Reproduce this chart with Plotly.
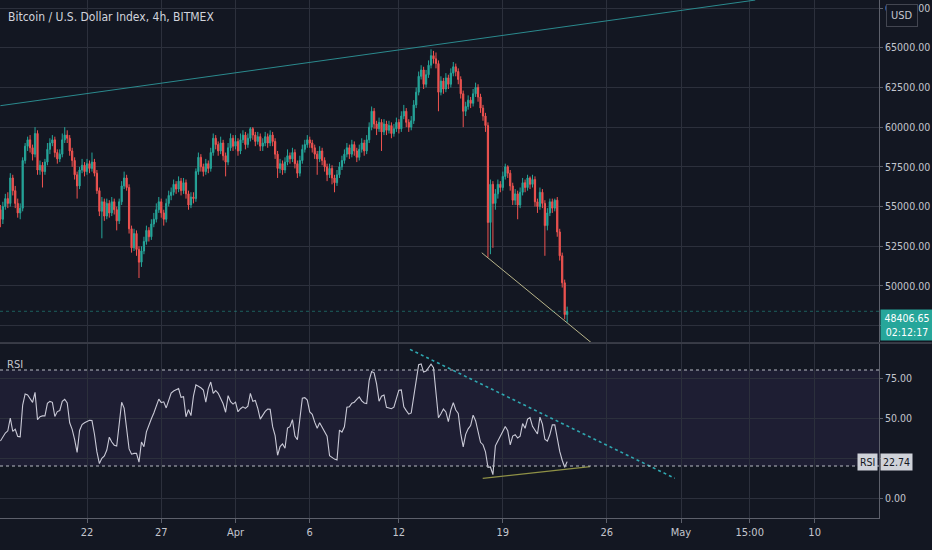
import pandas as pd
import plotly.graph_objects as go
from plotly.subplots import make_subplots

# 4h BITMEX XBTUSD candles (16 Mar 04:00 -> 23 Apr 08:00)
first_candle = "2021-03-16 04:00"
first_open = 54800
closes = [
    54200, 55000, 55500, 55200, 56800, 56000, 55200, 54600, 54900, 57900,
    58800, 59200, 58700, 58300, 59600, 57300, 57600, 57200, 57800, 58600,
    59000, 59200, 58400, 58000, 58300, 59200, 59500, 59300, 58500, 57900,
    57000, 56300, 57300, 57600, 57200, 57700, 57400, 57800, 57100, 56000,
    54700, 55300, 54400, 55200, 54600, 55300, 54800, 54100, 55300, 56300,
    56800, 56200, 53600, 52400, 53300, 52300, 51500, 52200, 52800, 53500,
    53100, 53900, 54200, 54800, 55300, 54600, 54200, 55200, 55700, 55900,
    56400, 56100, 56600, 56000, 56500, 55800, 55100, 55600, 55500, 57200,
    58100, 57500, 57200, 57700, 57400, 58400, 59300, 58900, 58500, 59000,
    58200, 57800, 58700, 59300, 58800, 59100, 58500, 59200, 59500, 58900,
    59300, 59900, 59500, 59100, 59400, 58800, 59000, 59400, 59000, 59500,
    59100, 58300, 57400, 57700, 57300, 57800, 58200, 58000, 58400, 57700,
    57100, 57900, 58600, 58900, 59200, 59000, 58700, 58300, 58000, 58500,
    57900, 57500, 57000, 57400, 56800, 56500, 57000, 57500, 57900, 58300,
    58700, 58300, 58900, 58500, 58100, 58600, 59000, 58500, 59200, 60000,
    61000, 60200, 59900, 60300, 59700, 60200, 59800, 60100, 59600, 59900,
    60300, 59900, 60700, 61000, 60300, 60000, 60400, 61400, 62200, 63200,
    63600, 62700, 63300, 63900, 64500, 64300, 64000, 62200, 62900, 62400,
    63100, 62700, 63400, 63800, 63500, 63000, 62100, 61000, 61300, 61700,
    61500, 62100, 62500, 61900, 61200, 60700, 60100, 54000, 56400, 55200,
    55800, 56400, 56200, 56900, 57500, 57100, 56300, 55400, 55800, 55100,
    55900, 56500, 56200, 56800, 56400, 56700, 55300, 55000, 55900, 55200,
    53800, 54600, 55300, 54900, 55400, 53400, 51900, 50200, 48200, 48406.65,
]
highs = [
    55100, 55300, 55800, 55900, 57100, 57000, 56300, 55500, 55200, 58100,
    59000, 59400, 59500, 58900, 60000, 59800, 57900, 57800, 58000, 59000,
    59300, 59500, 59400, 58600, 58600, 59600, 60000, 59800, 59500, 58700,
    58100, 57200, 57500, 58000, 57800, 58000, 57900, 58400, 58000, 57300,
    56200, 55600, 55500, 55500, 55400, 55600, 55500, 55000, 55500, 56600,
    57200, 57000, 56400, 53800, 53600, 53500, 52500, 52500, 53100, 53800,
    53700, 54200, 54600, 55200, 55600, 55500, 54800, 55500, 56000, 56200,
    56700, 56600, 56900, 56800, 56800, 56700, 56000, 55900, 55900, 57400,
    58400, 58300, 57700, 58000, 57900, 58700, 59600, 59500, 59100, 59400,
    59200, 58400, 59000, 59600, 59500, 59500, 59300, 59600, 59800, 59700,
    59600, 60000, 60000, 59700, 59700, 59600, 59300, 59700, 59600, 59800,
    59700, 59300, 58500, 58000, 57900, 58100, 58600, 58400, 58700, 58600,
    57900, 58200, 58900, 59200, 59500, 59400, 59200, 58900, 58500, 58800,
    58700, 58100, 57700, 57700, 57600, 57000, 57300, 57800, 58200, 58600,
    59000, 58900, 59200, 59100, 58700, 58900, 59300, 59200, 59500, 60300,
    61300, 61200, 60400, 60600, 60500, 60500, 60400, 60400, 60300, 60200,
    60600, 60500, 61000, 61400, 61200, 60500, 60700, 61700, 62500, 63500,
    63900, 63800, 63600, 64200, 64900, 64800, 64700, 64200, 63200, 63100,
    63400, 63300, 63700, 64100, 64000, 63700, 63200, 62300, 61600, 62000,
    61900, 62400, 62800, 62700, 62100, 61400, 60900, 60300, 56700, 56600,
    56100, 56700, 56600, 57200, 57700, 57600, 57300, 56500, 56100, 56000,
    56200, 56800, 56700, 57000, 56900, 57000, 56900, 55500, 56200, 56100,
    55400, 54900, 55500, 55500, 55500, 55600, 53600, 52100, 50400, 48700,
]
lows = [
    53700, 53900, 54800, 54900, 55000, 55700, 54900, 54300, 54200, 54700,
    57700, 58500, 58400, 57900, 58100, 57000, 57000, 56200, 57000, 57600,
    58300, 58800, 58100, 57700, 57800, 58100, 59000, 59000, 58200, 57500,
    56700, 55500, 56100, 57100, 56900, 57000, 57100, 57200, 56900, 55800,
    54400, 53000, 54100, 54200, 54300, 54400, 54500, 53500, 53900, 55100,
    56100, 56000, 53300, 52100, 52200, 51900, 50500, 51200, 52000, 52600,
    52800, 52900, 53700, 54000, 54600, 54300, 53800, 54000, 55000, 55400,
    55700, 55800, 55900, 55700, 55800, 55500, 54800, 54900, 55200, 55300,
    57000, 57200, 56900, 57000, 57100, 57200, 58200, 58600, 58200, 58300,
    57900, 56900, 57600, 58500, 58500, 58600, 58200, 58300, 59000, 58600,
    58700, 59100, 59200, 58800, 58900, 58500, 58500, 58800, 58700, 58800,
    58800, 58000, 56800, 57100, 57000, 57100, 57600, 57700, 57800, 57400,
    56800, 56900, 57700, 58400, 58700, 58700, 58400, 58000, 57000, 57800,
    57600, 57200, 56600, 56800, 56400, 55900, 56300, 56800, 57300, 57700,
    58100, 58000, 58100, 58200, 57800, 57900, 58400, 58200, 58300, 59000,
    59800, 59900, 59500, 59700, 58500, 59500, 59500, 59600, 59300, 59400,
    59700, 59600, 59700, 60500, 60000, 59700, 59800, 60200, 61200, 62000,
    63000, 62400, 62500, 63100, 63700, 64000, 63700, 61000, 62000, 62100,
    62200, 62400, 62500, 63200, 63200, 62700, 61800, 60000, 60700, 61100,
    61200, 61300, 61900, 61600, 60900, 60400, 59700, 51800, 52000, 52400,
    54800, 55500, 55900, 56000, 56700, 56800, 56000, 55100, 55100, 54200,
    54900, 55700, 55900, 56000, 56100, 56200, 55000, 54600, 54800, 54900,
    51900, 53500, 54400, 54600, 54700, 53100, 51600, 49900, 47900, 47700,
]
rsi = [
    35.6, 38.0, 40.6, 42.0, 50.0, 41.6, 43.0, 38.5, 38.2, 58.0,
    65.0, 64.4, 62.2, 59.8, 66.0, 49.0, 50.8, 51.3, 51.3, 59.2,
    60.4, 59.8, 51.0, 54.0, 54.7, 60.4, 61.7, 59.4, 47.0, 42.9,
    36.5, 28.5, 42.2, 45.9, 47.0, 47.8, 48.6, 48.4, 40.0, 28.8,
    21.5, 24.8, 26.3, 30.0, 38.0, 35.0, 33.0, 32.5, 48.6, 59.8,
    56.2, 43.3, 30.7, 27.4, 27.9, 27.9, 22.4, 35.0, 32.1, 41.3,
    46.0, 49.5, 53.1, 58.1, 61.8, 59.6, 60.1, 56.3, 60.4, 65.6,
    66.9, 67.8, 68.4, 62.9, 63.3, 50.8, 55.2, 51.5, 63.7, 70.7,
    69.9, 68.9, 67.5, 59.9, 68.4, 72.5, 65.4, 67.2, 65.4, 61.6,
    58.9, 53.6, 64.0, 60.2, 58.7, 59.9, 53.9, 55.8, 57.0, 56.0,
    57.4, 65.4, 60.4, 61.0, 56.0, 49.3, 52.0, 54.1, 55.6, 55.4,
    44.6, 39.0, 26.7, 32.1, 33.8, 31.1, 43.7, 44.6, 49.0, 38.7,
    36.5, 51.0, 62.4, 62.7, 61.2, 53.8, 52.3, 47.4, 43.6, 47.0,
    44.1, 42.0, 38.6, 26.4, 25.3, 24.3, 23.8, 42.4, 41.2, 44.5,
    56.7, 57.0, 59.3, 59.9, 61.6, 63.2, 60.7, 59.4, 59.0, 73.5,
    79.0, 78.2, 71.3, 60.5, 63.6, 64.4, 56.7, 56.1, 55.8, 56.8,
    62.6, 67.4, 67.6, 57.0, 54.6, 52.4, 53.2, 64.0, 74.5, 83.3,
    83.8, 78.7, 79.4, 81.3, 83.7, 81.5, 63.2, 50.2, 52.7, 55.6,
    53.8, 47.7, 55.0, 59.6, 55.0, 52.9, 40.2, 32.0, 39.8, 43.2,
    45.3, 51.8, 48.3, 41.8, 34.8, 33.3, 28.9, 19.2, 19.4, 14.6,
    32.6, 35.7, 38.7, 42.0, 44.7, 42.0, 33.2, 38.7, 39.6, 37.5,
    38.7, 46.5, 43.6, 49.3, 50.2, 44.8, 42.5, 40.0, 50.5, 46.2,
    36.7, 35.5, 39.5, 45.7, 45.7, 36.0, 29.1, 23.6, 19.2, 22.74,
]
rsi_bands = [20, 80]

date_ticks = ["2021-03-22", "2021-03-27", "2021-04-01", "2021-04-06", "2021-04-12",
              "2021-04-19", "2021-04-26", "2021-05-01", "2021-05-05 15:00", "2021-05-10"]
date_labels = ["22", "27", "Apr", "6", "12", "19", "26", "May", "15:00", "10"]
# 47500 and 25 keep their grid lines but their labels sit under the value boxes
price_ticks = [47500, 50000, 52500, 55000, 57500, 60000, 62500, 65000, 67500]
price_labels = ["", "50000.00", "52500.00", "55000.00", "57500.00", "60000.00",
                "62500.00", "65000.00", "67500.00"]
rsi_ticks = [0, 25, 50, 75]
rsi_labels = ["0.00", "", "50.00", "75.00"]

# hand-drawn trendlines (time, value) pairs
upper_trend = (["2021-03-16 04:00", "2021-05-06 00:00"], [61350, 68000])
price_trend = (["2021-04-17 14:00", "2021-04-25 00:00"], [52090, 46400])
rsi_down_trend = (["2021-04-12 18:00", "2021-04-30 14:00"], [92.9, 12.3])
rsi_up_trend = (["2021-04-17 15:30", "2021-04-24 21:00"], [12.3, 19.6])

BG = "#131722"
GRID = "#2c303c"
TXT = "#c3c6ce"
AXIS = "#5d606b"
UP = "#26a69a"
DOWN = "#ef5350"
FONT = "DejaVu Sans Condensed, Liberation Sans Narrow, Roboto, sans-serif"

times = pd.date_range(first_candle, periods=len(closes), freq="4h")
opens = [first_open] + closes[:-1]

fig = make_subplots(rows=2, cols=1, shared_xaxes=True, vertical_spacing=0.004)

fig.add_trace(go.Candlestick(
    x=times, open=opens, high=highs, low=lows, close=closes,
    increasing=dict(line=dict(color=UP, width=1), fillcolor=UP),
    decreasing=dict(line=dict(color=DOWN, width=1), fillcolor=DOWN),
    whiskerwidth=0, showlegend=False,
), row=1, col=1)

fig.add_trace(go.Scatter(x=upper_trend[0], y=upper_trend[1], mode="lines",
                         line=dict(color="#2b8a8e", width=1), showlegend=False), row=1, col=1)
fig.add_trace(go.Scatter(x=price_trend[0], y=price_trend[1], mode="lines",
                         line=dict(color="#b8b48a", width=1), showlegend=False), row=1, col=1)

# last price line
fig.add_hline(y=closes[-1], line=dict(color=UP, width=1, dash="dot"), opacity=0.5, row=1, col=1)

# RSI band
fig.add_shape(type="rect", xref="x2 domain", x0=0, x1=1, yref="y2",
              y0=rsi_bands[0], y1=rsi_bands[1], fillcolor="rgba(126,87,194,0.11)",
              line_width=0, layer="below")
for lvl in rsi_bands:
    fig.add_shape(type="line", xref="x2 domain", x0=0, x1=1, yref="y2", y0=lvl, y1=lvl,
                  line=dict(color="#b8bbc4", width=1, dash="3px,3px"))

fig.add_trace(go.Scatter(x=times, y=rsi, mode="lines",
                         line=dict(color="#c9c9d6", width=1.1), showlegend=False), row=2, col=1)
fig.add_trace(go.Scatter(x=rsi_down_trend[0], y=rsi_down_trend[1], mode="lines",
                         line=dict(color="#2fa7b0", width=1.6, dash="dot"), showlegend=False), row=2, col=1)
fig.add_trace(go.Scatter(x=rsi_up_trend[0], y=rsi_up_trend[1], mode="lines",
                         line=dict(color="#8f9146", width=1.3), showlegend=False), row=2, col=1)

x_range = ["2021-03-16 03:22", "2021-05-14 08:00"]
xcommon = dict(range=x_range, tickvals=date_ticks, showgrid=True, gridcolor=GRID,
               zeroline=False, rangeslider=dict(visible=False), automargin=False)
fig.update_xaxes(**xcommon, row=1, col=1, showticklabels=False, ticks="")
fig.update_xaxes(**xcommon, row=2, col=1, ticktext=date_labels, ticks="outside", ticklen=4,
                 tickcolor=AXIS, showline=True, linecolor=AXIS,
                 tickfont=dict(size=11, color=TXT, family=FONT))

ycommon = dict(side="right", showgrid=True, gridcolor=GRID, zeroline=False,
               ticks="outside", ticklen=3, tickcolor=AXIS, showline=True, linecolor=AXIS,
               automargin=False, tickfont=dict(size=10.5, color=TXT, family=FONT))
fig.update_yaxes(row=1, col=1, domain=[0.3398, 1], range=[46474, 68004],
                 tickvals=price_ticks, ticktext=price_labels, **ycommon)
fig.update_yaxes(row=2, col=1, domain=[0, 0.3359], range=[-12.5, 96.25],
                 tickvals=rsi_ticks, ticktext=rsi_labels, **ycommon)

# separator between panes
fig.add_shape(type="line", xref="paper", x0=0, x1=1.06, yref="paper", y0=0.3378, y1=0.3378,
              line=dict(color=AXIS, width=1))

fig.add_annotation(text="Bitcoin / U.S. Dollar Index, 4h, BITMEX", xref="paper", yref="paper",
                   x=0.007, y=0.967, xanchor="left", yanchor="middle", showarrow=False,
                   font=dict(size=12, color="#d1d4dc", family=FONT))
fig.add_annotation(text="RSI", xref="paper", yref="paper", x=0.006, y=0.297,
                   xanchor="left", yanchor="middle", showarrow=False,
                   font=dict(size=11, color=TXT, family=FONT))
fig.add_annotation(text="USD", xref="paper", yref="paper", x=1.026, y=0.971,
                   xanchor="center", yanchor="middle", showarrow=False,
                   font=dict(size=11, color=TXT, family=FONT),
                   bgcolor=BG, bordercolor="#434651", borderwidth=1, borderpad=4)
fig.add_annotation(text=f"{closes[-1]:.2f}<br>02:12:17", xref="paper", yref="y",
                   x=1.0015, y=closes[-1], xanchor="left", yanchor="top", showarrow=False,
                   font=dict(size=10.5, color="#ffffff", family=FONT), align="center",
                   bgcolor=UP, borderpad=2, width=48, yshift=2)
fig.add_annotation(text="RSI", xref="paper", yref="y2", x=0.999, y=rsi[-1],
                   xanchor="right", yanchor="middle", showarrow=False,
                   font=dict(size=10.5, color=BG, family=FONT), bgcolor="#cfd2d9", borderpad=2)
fig.add_annotation(text=f"{rsi[-1]:.2f}", xref="paper", yref="y2", x=1.0015, y=rsi[-1],
                   xanchor="left", yanchor="middle", showarrow=False,
                   font=dict(size=10.5, color=BG, family=FONT), bgcolor="#cfd2d9", borderpad=2)

fig.update_layout(
    width=932, height=550,
    margin=dict(l=0, r=53, t=0, b=32),
    paper_bgcolor=BG, plot_bgcolor=BG,
    showlegend=False,
    font=dict(family=FONT, color=TXT),
)

# the default page keeps an 8px body margin; drop it so the chart fills the window
fig.write_html("out.html", config={"displayModeBar": False},
               post_script="document.body.style.margin='0';"
               "document.body.style.background='#131722';")
